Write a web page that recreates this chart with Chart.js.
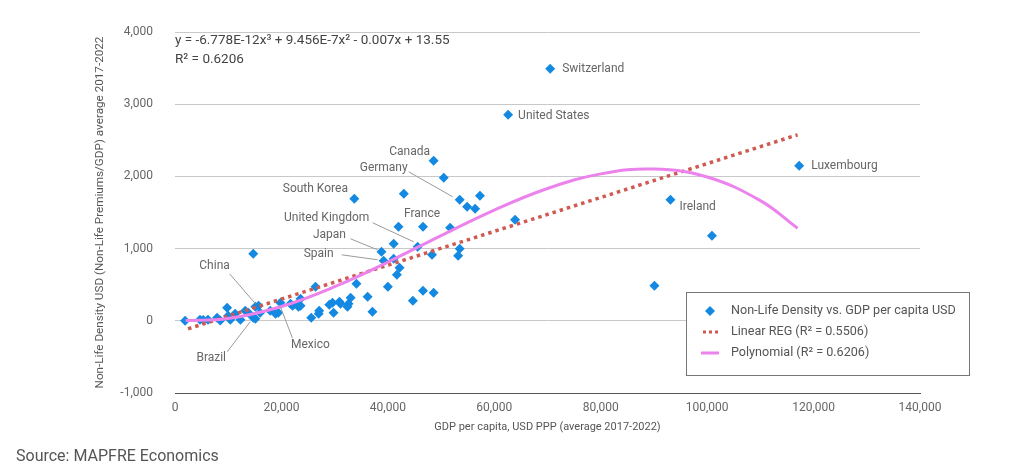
<!DOCTYPE html>
<html><head><meta charset="utf-8">
<script src="https://cdn.jsdelivr.net/npm/chart.js@4.4.1/dist/chart.umd.min.js"></script>
<style>html,body{margin:0;padding:0;background:#fff;}#wrap{position:relative;width:1028px;height:475px;}</style>
</head><body><div id="wrap"><canvas id="c" width="1028" height="475"></canvas></div>
<script>
// ---- data ----
const gdpPerCapita = [1900,4700,5300,6200,7900,8500,9800,10000,10400,11300,12300,13200,13800,14700,15100,15700,16000,15100,17900,18900,19400,19800,22100,23000,23200,23600,25600,26400,27100,27000,29600,29800,31100,32600,33000,32400,29000,30900,34100,36200,37100,40000,41700,42200,41100,39200,38800,41100,45600,44700,46600,48600,48300,53500,53200,42000,46600,51700,43000,33700,48600,50500,53500,54900,56400,57300,63900,62600,70500,93100,100900,90100,117300,14700,21700,23600];
const nonLifeDensity = [0,14,10,14,42,5,180,69,14,97,14,138,111,42,194,208,111,28,138,97,111,249,208,235,194,305,42,471,138,97,249,111,235,235,319,194,222,263,512,332,125,471,637,734,859,831,956,1066,1025,277,415,388,914,997,900,1302,1302,1288,1759,1690,2216,1980,1676,1579,1551,1731,1399,2853,3490,1676,1177,485,2147,928,235,208];
const countryLabels = ["","","","","","","","","","","","","","Brazil","","China","","","","","","Mexico","","","","","","","","","","","","","","","","","","","","","","","","Spain","Japan","","United Kingdom","","","","","","","","France","","","South Korea","Canada","","Germany","","","","","United States","Switzerland","Ireland","","","Luxembourg","","",""];
const linearX = [2450, 117000];
const linearY = [-111, 2576];
const polyX = [2000,10000,20000,30000,40000,50000,60000,70000,80000,90000,100000,110000,117000];
const polyY = [3,31,198,472,813,1180,1534,1832,2035,2102,1992,1664,1282];
const xTicks = [0,20000,40000,60000,80000,100000,120000,140000];
const yTicks = [-1000,0,1000,2000,3000,4000];
const seriesNames = ["Non-Life Density vs. GDP per capita USD","Linear REG (R\u00b2 = 0.5506)","Polynomial (R\u00b2 = 0.6206)"];
const equationLines = ["y = -6.778E-12x\u00b3 + 9.456E-7x\u00b2 - 0.007x + 13.55","R\u00b2 = 0.6206"];
const xTitle = "GDP per capita, USD PPP (average 2017-2022)";
const yTitle = "Non-Life Density USD (Non-Life Premiums/GDP) average 2017-2022";
const sourceText = "Source: MAPFRE Economics";

// ---- styling / layout ----
const FONT = "Roboto, 'Noto Sans', sans-serif";
const BLUE = '#1389e2', RED = '#cf5a52', PINK = '#ec82ec', GRAY = '#666';
const labelLayout = {
  "Switzerland":{t:[12,0],a:'left'},
  "United States":{t:[10,1],a:'left'},
  "Luxembourg":{t:[12,0],a:'left'},
  "Ireland":{t:[9,7],a:'left'},
  "Canada":{t:[-24,-9],a:'center'},
  "South Korea":{t:[-39,-10],a:'center'},
  "France":{t:[-1,-13],a:'center'},
  "Germany":{t:[-76,-32],a:'center',l:[[-51,-28],[-7,-3]]},
  "United Kingdom":{t:[-91,-29],a:'center',l:[[-45,-24],[-4,-5]]},
  "Japan":{t:[-52,-17],a:'center',l:[[-31,-13],[-4,-2]]},
  "Spain":{t:[-65,-7],a:'center',l:[[-42,-6],[-6,-1]]},
  "China":{t:[-44,-40],a:'center',l:[[-29,-32],[-3,-2]]},
  "Brazil":{t:[-42,40],a:'center',l:[[-26,34],[-3,4]]},
  "Mexico":{t:[30,42],a:'center',l:[[12,35],[0,4]]}
};

const overlay = {
  id:'overlay',
  afterDatasetsDraw(chart){
    const ctx = chart.ctx, xs = chart.scales.x, ys = chart.scales.y;
    ctx.save();
    ctx.font = '12px ' + FONT;
    ctx.textBaseline = 'middle';
    for (let i=0;i<countryLabels.length;i++){
      const name = countryLabels[i];
      if (!name) continue;
      const L = labelLayout[name];
      const px = xs.getPixelForValue(gdpPerCapita[i]);
      const py = ys.getPixelForValue(nonLifeDensity[i]);
      if (L.l){
        ctx.strokeStyle = '#9a9a9a'; ctx.lineWidth = 1;
        ctx.beginPath();
        ctx.moveTo(px+L.l[0][0], py+L.l[0][1]);
        ctx.lineTo(px+L.l[1][0], py+L.l[1][1]);
        ctx.stroke();
      }
      ctx.fillStyle = GRAY;
      ctx.textAlign = L.a;
      ctx.fillText(name, px+L.t[0], py+L.t[1]);
    }
    ctx.restore();
  },
  afterDraw(chart){
    const ctx = chart.ctx, ca = chart.chartArea;
    ctx.save();
    // equation
    ctx.fillStyle = '#444';
    ctx.font = '13.5px ' + FONT;
    ctx.textAlign = 'left'; ctx.textBaseline = 'middle';
    ctx.fillText(equationLines[0], ca.left, 41);
    ctx.fillText(equationLines[1], ca.left, 60);
    // legend
    const bx = 686, by = 292, bw = 283, bh = 83;
    ctx.fillStyle = '#fff'; ctx.fillRect(bx, by, bw, bh);
    ctx.strokeStyle = '#777'; ctx.lineWidth = 1;
    ctx.strokeRect(bx+0.5, by+0.5, bw, bh);
    const rows = [311, 332, 353];
    ctx.font = '12.6px ' + FONT; ctx.fillStyle = '#555';
    seriesNames.forEach((n,k)=>{ ctx.fillText(n, bx+45, rows[k]); });
    // marker diamond
    ctx.fillStyle = BLUE;
    ctx.beginPath();
    const mx = bx+24, my = rows[0];
    ctx.moveTo(mx, my-5); ctx.lineTo(mx+5, my); ctx.lineTo(mx, my+5); ctx.lineTo(mx-5, my); ctx.closePath(); ctx.fill();
    // dotted
    ctx.fillStyle = RED;
    for (let d=0; d<3; d++) ctx.fillRect(bx+17+d*6, rows[1]-1.5, 3, 3);
    // pink line
    ctx.strokeStyle = PINK; ctx.lineWidth = 3;
    ctx.beginPath(); ctx.moveTo(bx+15, rows[2]); ctx.lineTo(bx+33, rows[2]); ctx.stroke();
    // source
    ctx.fillStyle = '#555'; ctx.font = '16px ' + FONT;
    ctx.fillText(sourceText, 16, 457);
    ctx.restore();
  }
};

new Chart(document.getElementById('c'), {
  type: 'scatter',
  data: {
    datasets: [
      { label: seriesNames[0], data: gdpPerCapita.map((x,i)=>({x, y: nonLifeDensity[i]})),
        pointStyle:'rectRot', pointRadius:5, backgroundColor: BLUE, borderWidth:0, order:3 },
      { type:'line', label: seriesNames[1], data: linearX.map((x,i)=>({x, y: linearY[i]})),
        borderColor: RED, borderWidth:3.5, borderDash:[3.5,4], pointRadius:0, fill:false, order:2 },
      { type:'line', label: seriesNames[2], data: polyX.map((x,i)=>({x, y: polyY[i]})),
        borderColor: PINK, borderWidth:3, tension:0.4, pointRadius:0, fill:false, order:1 }
    ]
  },
  options: {
    responsive:false, animation:false, devicePixelRatio:1,
    layout:{ padding:{ left:89, right:108, top:32, bottom:37 } },
    plugins:{ legend:{display:false}, tooltip:{enabled:false} },
    scales:{
      x:{ type:'linear', min:0, max:140000,
        afterBuildTicks: s => { s.ticks = xTicks.map(v=>({value:v})); },
        afterFit: s => { s.height = 45; },
        grid:{ display:false, drawTicks:false },
        border:{ display:true, color:'#555', width:1 },
        ticks:{ color:GRAY, font:{family:FONT, size:12}, padding:8, maxRotation:0,
          callback: v => v.toLocaleString('en-US') },
        title:{ display:true, text:xTitle, color:'#555', font:{family:FONT, size:11}, padding:{top:4,bottom:4} }
      },
      y:{ type:'linear', min:-1000, max:4000,
        afterBuildTicks: s => { s.ticks = yTicks.map(v=>({value:v})); },
        afterFit: s => { s.width = 86; },
        grid:{ drawTicks:false, color: c => c.tick && c.tick.value === -1000 ? 'rgba(0,0,0,0)' : '#c8c8c8', lineWidth:1 },
        border:{ display:false },
        ticks:{ color:GRAY, font:{family:FONT, size:12}, padding:22,
          callback: v => v.toLocaleString('en-US') },
        title:{ display:true, text:yTitle, color:'#555', font:{family:FONT, size:11.7}, padding:{top:4,bottom:4} }
      }
    }
  },
  plugins:[overlay]
});
</script>
</body></html>
